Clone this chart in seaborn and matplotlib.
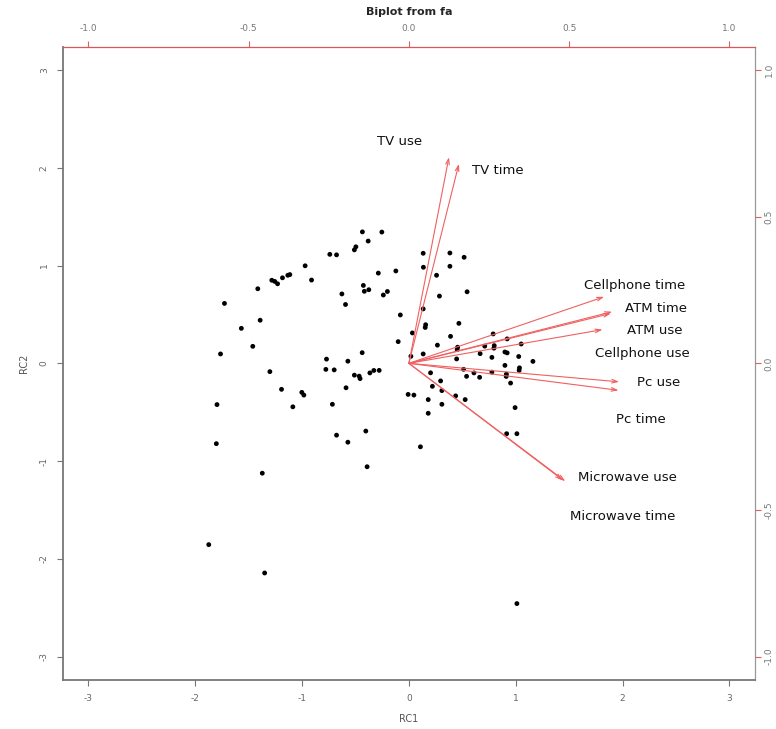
import matplotlib.pyplot as plt
import numpy as np
import pandas as pd
import seaborn as sns

# factor scores (RC1, RC2)
rc1 = [-0.435, -0.381, -0.253, -0.510, -0.496, -0.740, -0.677, -0.971, -1.114, -1.133,
       -1.183, -1.283, -1.255, -1.229, -0.911, -1.414, -1.726, -0.627, -0.593, -0.426,
       -0.417, -0.375, -0.286, -0.122, -0.201, -0.239, -1.392, -1.568, -1.461, -1.763,
       -1.301, -0.771, -0.571, -0.437, -0.777, -0.699, -0.510, -0.465, -0.457, -0.365,
       -0.328, -0.278, -1.192, -1.002, -0.983, -1.086, -0.588, -0.716, -1.796, -1.802,
       -0.677, -0.571, -0.403, -0.391, -1.372, -1.873, -1.350,
       0.134, 0.384, 0.517, 0.136, 0.384, 0.259, 0.286, 0.545, -0.080, 0.134,
       0.468, 0.157, 0.153, 0.033, -0.100, 0.390, 0.267, 0.789, 0.920, 1.051,
       0.456, 0.452, 0.710, 0.799, 0.796, 0.019, 0.134, 0.447, 0.667, 0.777,
       0.899, 0.920, 1.028, 1.161, 0.899, 1.035, 1.032, 0.203, 0.512, 0.609,
       0.540, 0.662, 0.777, 0.913, 0.911, 0.952, 0.297, 0.220, 0.309, 0.438,
       0.527, -0.007, 0.047, 0.181, 0.309, 0.181, 0.994, 0.915, 1.011, 0.108,
       1.011]
rc2 = [1.345, 1.251, 1.343, 1.161, 1.192, 1.115, 1.110, 0.998, 0.908, 0.901,
       0.875, 0.850, 0.838, 0.814, 0.852, 0.763, 0.613, 0.710, 0.602, 0.797,
       0.737, 0.753, 0.923, 0.945, 0.735, 0.699, 0.441, 0.358, 0.174, 0.096,
       -0.085, 0.043, 0.022, 0.109, -0.062, -0.067, -0.121, -0.131, -0.156, -0.098,
       -0.073, -0.072, -0.266, -0.297, -0.325, -0.445, -0.250, -0.419, -0.422, -0.822,
       -0.735, -0.807, -0.693, -1.058, -1.124, -1.855, -2.145,
       1.126, 1.129, 1.085, 0.983, 0.993, 0.901, 0.688, 0.732, 0.495, 0.557,
       0.409, 0.395, 0.367, 0.311, 0.222, 0.276, 0.186, 0.301, 0.250, 0.198,
       0.165, 0.140, 0.176, 0.181, 0.155, 0.072, 0.096, 0.045, 0.099, 0.061,
       0.116, 0.107, 0.070, 0.020, -0.021, -0.046, -0.072, -0.097, -0.061, -0.098,
       -0.133, -0.143, -0.090, -0.110, -0.134, -0.202, -0.180, -0.235, -0.279, -0.333,
       -0.371, -0.318, -0.325, -0.371, -0.419, -0.511, -0.453, -0.720, -0.720, -0.854,
       -2.458]

# loadings
variables = ['TV use', 'TV time', 'Cellphone time', 'ATM time', 'ATM use',
             'Cellphone use', 'Pc use', 'Pc time', 'Microwave use', 'Microwave time']
load1 = [0.125, 0.156, 0.609, 0.634, 0.604, 0.630, 0.656, 0.654, 0.488, 0.480]
load2 = [0.703, 0.680, 0.227, 0.176, 0.115, 0.170, -0.063, -0.092, -0.402, -0.398]
# where the variable names sit (loading units)
label_x = [-0.028, 0.278, 0.703, 0.772, 0.766, 0.728, 0.778, 0.725, 0.681, 0.666]
label_y = [0.755, 0.656, 0.265, 0.186, 0.111, 0.033, -0.066, -0.192, -0.389, -0.522]

scores = pd.DataFrame({'RC1': rc1, 'RC2': rc2})

sns.set_style('ticks')
plt.rcParams['font.family'] = ['DejaVu Sans']
plt.rcParams['axes.unicode_minus'] = False

fig = plt.figure(figsize=(7.76, 7.29), dpi=100)
rect = [0.0808, 0.0672, 0.8922, 0.8688]
ax = fig.add_axes(rect)
sns.scatterplot(data=scores, x='RC1', y='RC2', ax=ax, color='black',
                s=12, edgecolor='none', linewidth=0)
ax.set_xlim(-3.24, 3.24)
ax.set_ylim(-3.24, 3.24)
ax.set_xticks(range(-3, 4))
ax.set_yticks(range(-3, 4))
ax.tick_params(colors='#777777', labelcolor='#666666', labelsize=6.5,
               length=4, width=0.8, pad=6)
for lab in ax.get_yticklabels():
    lab.set_rotation(90)
    lab.set_va('center')
ax.set_xlabel('RC1', fontsize=7, color='#555555', labelpad=8)
ax.set_ylabel('RC2', fontsize=7, color='#555555', labelpad=8)
for side in ['left', 'bottom']:
    ax.spines[side].set_color('#777777')
    ax.spines[side].set_linewidth(1.3)
ax.spines['right'].set_color('#999999')
ax.spines['right'].set_linewidth(0.9)
ax.spines['top'].set_color('#d65a5a')
ax.spines['top'].set_linewidth(0.9)

# loadings axis on top / right
axl = fig.add_axes(rect, frameon=False)
axl.set_xlim(-1.08, 1.08)
axl.set_ylim(-1.08, 1.08)
axl.xaxis.tick_top()
axl.yaxis.tick_right()
axl.set_xticks([-1.0, -0.5, 0.0, 0.5, 1.0])
axl.set_yticks([-1.0, -0.5, 0.0, 0.5, 1.0])
axl.set_xticklabels(['-1.0', '-0.5', '0.0', '0.5', '1.0'])
axl.set_yticklabels(['-1.0', '-0.5', '0.0', '0.5', '1.0'], rotation=90, va='center')
axl.tick_params(axis='both', colors='#e06060', labelcolor='#777777',
                labelsize=6.5, length=4, width=0.8, pad=6)
axl.tick_params(axis='y', pad=3)
axl.patch.set_alpha(0)

for v, lx, ly, tx, ty in zip(variables, load1, load2, label_x, label_y):
    axl.annotate('', xy=(lx, ly), xytext=(0, 0),
                 arrowprops=dict(arrowstyle='->,head_length=0.4,head_width=0.13',
                                 color='#f06060', lw=0.8, shrinkA=0, shrinkB=0))
    axl.text(tx, ty, v, fontsize=9.5, ha='center', va='center', color='#111111')

fig.text(0.527, 0.983, 'Biplot from fa', ha='center', va='center',
         fontsize=8, fontweight='bold')

plt.savefig('out.png', dpi=100)
plt.close()
